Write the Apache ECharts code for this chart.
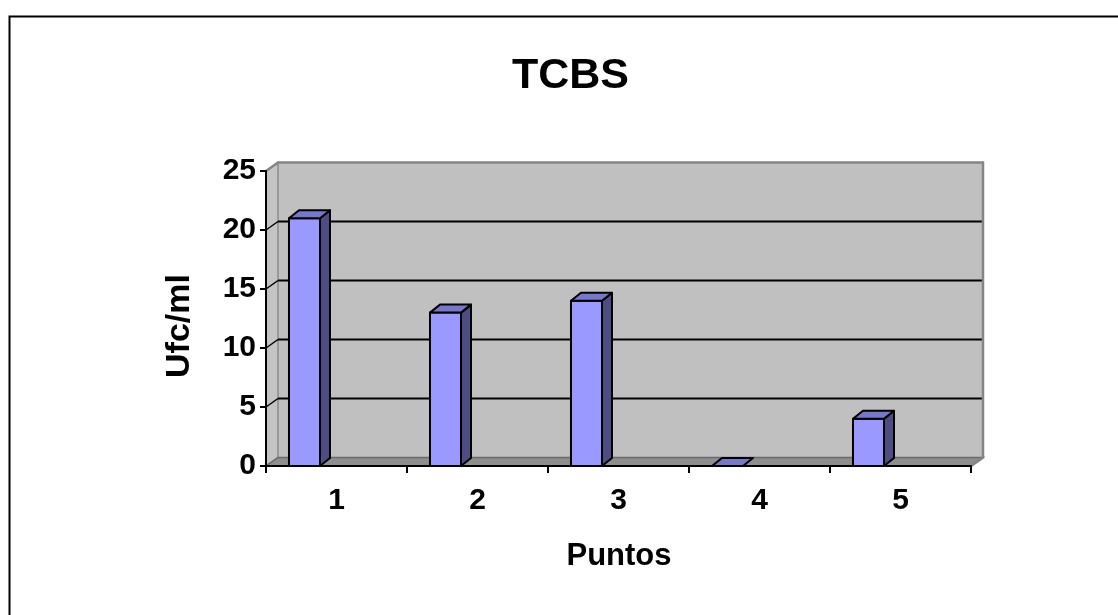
<!DOCTYPE html>
<html>
<head>
<meta charset="utf-8">
<style>
  html, body { margin: 0; padding: 0; background: #ffffff; }
  #chart { width: 1118px; height: 615px; }
</style>
<script src="https://cdn.jsdelivr.net/npm/echarts@6/dist/echarts.min.js"></script>
</head>
<body>
<div id="chart"></div>
<script>
// Sampling points and colony counts (Ufc/ml) on TCBS agar
const categories = ['1', '2', '3', '4', '5'];
const ufcValues = [21, 13, 14, 0, 4];
const yMin = 0;
const yMax = 25;
const yStep = 5;

const FONT = '"Liberation Sans", Arial, sans-serif';

// Depth offsets for the pseudo-3D walls and columns
const WALL_DX = 12, WALL_DY = -8.5;
const BAR_DX = 10, BAR_DY = -8;

const chart = echarts.init(document.getElementById('chart'), null, { renderer: 'canvas' });

// Back wall, side wall, floor and the gridlines drawn on the back wall
function renderFrame(params, api) {
  const cs = params.coordSys;
  const x0 = cs.x, x1 = cs.x + cs.width;
  const yTop = api.coord([0, yMax])[1];
  const yBase = api.coord([0, yMin])[1];
  const children = [];
  // back wall
  children.push({
    type: 'rect',
    shape: { x: x0 + WALL_DX, y: yTop + WALL_DY, width: x1 - x0, height: yBase - yTop },
    style: { fill: '#C0C0C0', stroke: null }
  });
  // left side wall
  children.push({
    type: 'polygon',
    shape: { points: [[x0, yTop], [x0 + WALL_DX, yTop + WALL_DY], [x0 + WALL_DX, yBase + WALL_DY], [x0, yBase]] },
    style: { fill: '#C4C4C4', stroke: '#8A8A8A', lineWidth: 1.5 }
  });
  // floor
  children.push({
    type: 'polygon',
    shape: { points: [[x0, yBase], [x1, yBase], [x1 + WALL_DX, yBase + WALL_DY], [x0 + WALL_DX, yBase + WALL_DY]] },
    style: { fill: '#8E8E8E', stroke: '#6A6A6A', lineWidth: 1.5 }
  });
  // gridlines on back wall and side wall
  for (let v = yMin + yStep; v < yMax; v += yStep) {
    const y = api.coord([0, v])[1];
    children.push({
      type: 'line',
      shape: { x1: x0 + WALL_DX, y1: y + WALL_DY, x2: x1 + WALL_DX, y2: y + WALL_DY },
      style: { stroke: '#000000', lineWidth: 2 }
    });
    children.push({
      type: 'line',
      shape: { x1: x0, y1: y, x2: x0 + WALL_DX, y2: y + WALL_DY },
      style: { stroke: '#000000', lineWidth: 1.5 }
    });
  }
  // wall edges (top and right)
  children.push({
    type: 'polyline',
    shape: { points: [[x0, yTop], [x0 + WALL_DX, yTop + WALL_DY], [x1 + WALL_DX, yTop + WALL_DY], [x1 + WALL_DX, yBase + WALL_DY], [x1, yBase]] },
    style: { stroke: '#858585', lineWidth: 2.5, fill: null }
  });
  return { type: 'group', children: children };
}

// 3D columns: front face, right side and top
function renderColumn(params, api) {
  const idx = api.value(0);
  const val = api.value(1);
  const c = api.coord([idx, val]);
  const b = api.coord([idx, 0]);
  const band = api.size([1, 0])[0];
  const w = band * 0.22;
  const x = c[0] - band * 0.337;
  const top = c[1];
  const bottom = b[1];
  const line = { stroke: '#000000', lineWidth: 2, lineJoin: 'round' };
  const children = [];
  if (bottom - top > 0.5) {
    children.push({
      type: 'polygon',
      shape: { points: [[x + w, top], [x + w + BAR_DX, top + BAR_DY], [x + w + BAR_DX, bottom + BAR_DY], [x + w, bottom]] },
      style: Object.assign({ fill: '#4D4D82' }, line)
    });
    children.push({
      type: 'rect',
      shape: { x: x, y: top, width: w, height: bottom - top },
      style: Object.assign({ fill: '#9999FF' }, line)
    });
  }
  children.push({
    type: 'polygon',
    shape: { points: [[x, top], [x + BAR_DX, top + BAR_DY], [x + w + BAR_DX, top + BAR_DY], [x + w, top]] },
    style: Object.assign({ fill: '#7777CC' }, line)
  });
  return { type: 'group', children: children };
}

const option = {
  backgroundColor: '#ffffff',
  animation: false,
  title: {
    text: 'TCBS',
    left: 507,
    top: 50,
    textStyle: { fontFamily: FONT, fontWeight: 'bold', fontSize: 43, color: '#000000' }
  },
  grid: { left: 266, right: 147, top: 171, bottom: 149, containLabel: false },
  xAxis: {
    type: 'category',
    data: categories,
    boundaryGap: true,
    axisLine: { show: true, lineStyle: { color: '#000000', width: 2 } },
    axisTick: { show: true, length: 7, inside: false, alignWithLabel: false, lineStyle: { color: '#000000', width: 2 } },
    axisLabel: { margin: 20, fontFamily: FONT, fontWeight: 'bold', fontSize: 30, color: '#000000' },
    splitLine: { show: false },
    z: 5
  },
  yAxis: {
    type: 'value',
    min: yMin,
    max: yMax,
    interval: yStep,
    axisLine: { show: true, lineStyle: { color: '#000000', width: 2 } },
    axisTick: { show: true, length: 6, lineStyle: { color: '#000000', width: 2 } },
    axisLabel: { margin: 10, fontFamily: FONT, fontWeight: 'bold', fontSize: 30, color: '#000000' },
    splitLine: { show: false },
    z: 5
  },
  graphic: [
    {
      type: 'rect',
      left: 7, top: 14,
      shape: { x: 0, y: 0, width: 1200, height: 700 },
      style: { fill: null, stroke: '#000000', lineWidth: 2 },
      z: 0
    },
    {
      type: 'text',
      x: 180, y: 326,
      rotation: Math.PI / 2,
      style: { text: 'Ufc/ml', fontFamily: FONT, fontWeight: 'bold', fontSize: 34, fill: '#000000', align: 'center', verticalAlign: 'middle' }
    },
    {
      type: 'text',
      x: 619, y: 556,
      style: { text: 'Puntos', fontFamily: FONT, fontWeight: 'bold', fontSize: 31, fill: '#000000', align: 'center', verticalAlign: 'middle' }
    }
  ],
  series: [
    {
      type: 'custom',
      name: 'frame',
      silent: true,
      renderItem: renderFrame,
      data: [[0, 0]],
      z: 1
    },
    {
      type: 'custom',
      name: 'Ufc/ml',
      renderItem: renderColumn,
      data: ufcValues.map((v, i) => [i, v]),
      z: 2
    }
  ]
};

chart.setOption(option);
</script>
</body>
</html>
